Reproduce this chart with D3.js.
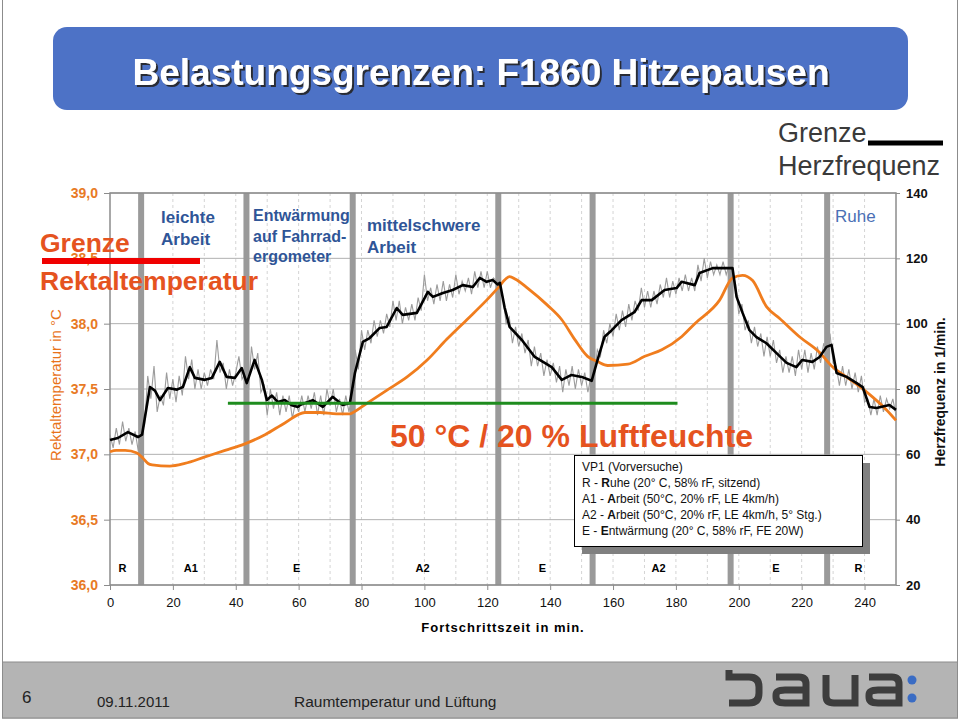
<!DOCTYPE html>
<html>
<head>
<meta charset="utf-8">
<script src="https://cdn.jsdelivr.net/npm/d3@7.9.0/dist/d3.min.js"></script>
<style>
  body { margin: 0; background: #fff; }
  svg { display: block; font-family: "Liberation Sans", Arial, sans-serif; }
</style>
</head>
<body>
<svg id="chart" width="960" height="720"></svg>
<script>
// ---- Data ----
const timeTicks = [0, 20, 40, 60, 80, 100, 120, 140, 160, 180, 200, 220, 240];
const tempTicks = [36.0, 36.5, 37.0, 37.5, 38.0, 38.5, 39.0];
const hrTicks = [20, 40, 60, 80, 100, 120, 140];

// phase borders (min) and the phase codes between them
const phaseBounds = [9.9, 43.4, 77.2, 123.5, 153.5, 197.4, 228.1];
const phaseCodes = ["R", "A1", "E", "A2", "E", "A2", "E", "R"];

// rectal temperature [min, °C]
const tempCurve = [
  [0, 37.02], [2, 37.03], [4.8, 37.03], [8.6, 37.01], [10.5, 36.97], [12.1, 36.93],
  [13.4, 36.92], [19, 36.91], [23.8, 36.93], [30.2, 36.98], [36.6, 37.03], [42.9, 37.08],
  [49.3, 37.15], [55.6, 37.24], [62, 37.32], [66.8, 37.32], [72, 37.31], [76.3, 37.31],
  [78, 37.33], [81.7, 37.39], [88, 37.49], [94.4, 37.59], [100.8, 37.72], [107.1, 37.88],
  [113.5, 38.03], [119.8, 38.18], [123.3, 38.27], [127.1, 38.36], [129, 38.34], [132.9, 38.27],
  [139.2, 38.14], [143.7, 38.03], [147.8, 37.88], [151.9, 37.75], [155.1, 37.71], [158.3, 37.68],
  [164.7, 37.69], [170.1, 37.75], [175.5, 37.8], [181.8, 37.9], [186, 38.0], [193.9, 38.18],
  [198, 38.35], [201.2, 38.37], [204.4, 38.33], [208.8, 38.13], [213, 38.04], [219.3, 37.9],
  [225.7, 37.78], [229.8, 37.67], [234.3, 37.59], [238.4, 37.52], [242.5, 37.44], [247, 37.34],
  [250, 37.26]
];

// heart rate, smoothed [min, 1/min]
const hrSmooth = [
  [0, 64.4], [2.5, 65], [5.7, 66.8], [8.9, 65.3], [10.2, 66], [12.7, 80.6], [14.3, 79.5],
  [15.9, 76.6], [18.4, 80.3], [21.3, 79.8], [23.2, 80.6], [25.4, 86.7], [27, 83.4], [30.2, 82.8],
  [32.4, 83.4], [34.9, 88.3], [37.1, 83.7], [39.7, 83.4], [41.9, 86.4], [43.5, 81.8], [46, 88.9],
  [48.3, 82.8], [49.9, 76.6], [51.5, 78], [53.4, 76], [55.6, 76.6], [57.8, 75], [59.8, 74.5],
  [60.4, 75.1], [64.5, 76.6], [67.7, 74.5], [70.8, 77.6], [74, 75.1], [76.3, 75.7], [77.9, 84.9],
  [80.4, 94.4], [82.6, 95.6], [85.8, 98.7], [88, 99], [91.2, 104.8], [93.1, 102.7], [97.6, 103.3],
  [101.1, 109.7], [102.7, 108.2], [105.9, 109.4], [109, 110.3], [112.2, 111.8], [115.4, 111.2],
  [117.6, 114], [119.8, 112.8], [121.7, 113.4], [123.3, 112], [124, 112.5], [125.5, 105],
  [127.1, 99], [131, 95], [135.1, 89.8], [140.5, 86.7], [143.7, 82.8], [146.8, 84.3], [150, 83.7],
  [153.2, 82.5], [154.8, 88], [157.3, 96], [159.6, 98], [162.7, 101.1], [166.8, 103.5],
  [169.1, 107.2], [172.3, 107.2], [176.4, 110.3], [180.2, 110.9], [181.8, 112.8], [186, 111.8],
  [187.5, 115.5], [191.7, 117], [198, 117], [199.3, 108.2], [201.2, 103.3], [203.4, 98],
  [205.6, 95.9], [208.8, 94], [212, 91], [215.2, 88], [218.3, 86.7], [220.2, 88.9], [223.4, 88.3],
  [225.7, 89.8], [227.9, 92.9], [229.5, 93.5], [231.1, 84.9], [234.3, 83.7], [237.5, 81.8],
  [239.4, 80.6], [241.6, 74.5], [243.8, 74.2], [247.9, 75.1], [250, 73.6]
];

// heart rate, raw readings, one per minute from 0 to 250
const hrRaw = [
  66, 62, 68, 63, 70, 64, 68, 63, 67, 61,
  67, 69, 84, 77, 87, 73, 78, 75, 85, 77,
  83, 76, 84, 78, 90, 83, 89, 80, 86, 80,
  85, 81, 86, 83, 95, 85, 88, 80, 86, 81,
  85, 90, 83, 85, 79, 93, 86, 91, 79, 81,
  72, 80, 74, 79, 72, 78, 73, 78, 71, 76,
  73, 78, 73, 78, 74, 79, 72, 78, 72, 80,
  75, 80, 73, 77, 72, 78, 73, 78, 92, 86,
  98, 92, 98, 94, 101, 96, 101, 97, 103, 99,
  107, 101, 107, 100, 105, 101, 106, 101, 108, 104,
  115, 107, 111, 106, 112, 107, 113, 107, 112, 108,
  115, 109, 113, 110, 114, 109, 116, 111, 116, 111,
  116, 111, 114, 113, 110, 108, 100, 102, 94, 99,
  93, 97, 91, 95, 87, 93, 87, 91, 84, 89,
  84, 88, 82, 87, 79, 86, 81, 87, 80, 86,
  81, 85, 79, 84, 83, 92, 90, 98, 94, 100,
  96, 103, 98, 104, 99, 106, 101, 107, 104, 111,
  105, 110, 105, 110, 106, 112, 108, 114, 108, 113,
  109, 114, 110, 115, 110, 114, 110, 118, 113, 120,
  114, 119, 115, 118, 115, 119, 115, 118, 116, 112,
  103, 106, 98, 101, 94, 99, 93, 97, 90, 96,
  90, 95, 88, 92, 85, 90, 85, 90, 84, 92,
  86, 92, 85, 91, 86, 93, 88, 94, 91, 97,
  88, 87, 81, 87, 81, 86, 80, 85, 79, 84,
  76, 77, 72, 77, 72, 78, 73, 77, 74, 77,
  72
];

// green reference line [min, °C]
const greenLine = [[37.5, 37.39], [180.5, 37.39]];

// info box lines: plain prefix, bold letter, rest
const noteLines = [
  ["VP1 (Vorversuche)", "", ""],
  ["R - ", "R", "uhe (20° C, 58% rF, sitzend)"],
  ["A1 - ", "A", "rbeit (50°C, 20% rF, LE 4km/h)"],
  ["A2 - ", "A", "rbeit (50°C, 20% rF, LE 4km/h, 5° Stg.)"],
  ["E - ", "E", "ntwärmung (20° C, 58% rF, FE 20W)"]
];

// ---- Setup ----
const svg = d3.select("#chart");

const x = d3.scaleLinear().domain([0, 250]).range([110, 896]);
const yT = d3.scaleLinear().domain([36, 39]).range([585, 193]);
const yH = d3.scaleLinear().domain([20, 140]).range([585, 193]);
const comma = d => d3.format(".1f")(d).replace(".", ",");

const orange = "#f07d1e";
const orangeText = "#e5531f";
const blueText = "#2f5597";

// drop shadow for the title
const defs = svg.append("defs");
defs.append("filter").attr("id", "shadow")
  .append("feDropShadow")
  .attr("dx", 2).attr("dy", 2).attr("stdDeviation", 0.6)
  .attr("flood-color", "#222").attr("flood-opacity", 0.9);

// slide frame and footer
svg.append("rect")
  .attr("x", 2.5).attr("y", -10).attr("width", 955).attr("height", 728)
  .attr("fill", "none").attr("stroke", "#8c8c8c");

svg.append("rect")
  .attr("x", 2.5).attr("y", 662).attr("width", 955).attr("height", 56)
  .attr("fill", "#b4b4b4").attr("stroke", "#8c8c8c");

// title banner
svg.append("rect")
  .attr("x", 53).attr("y", 27).attr("width", 855).attr("height", 83)
  .attr("rx", 14).attr("fill", "#4d72c6");

svg.append("text")
  .attr("x", 481).attr("y", 85)
  .attr("text-anchor", "middle")
  .attr("font-size", 37).attr("font-weight", "bold")
  .attr("fill", "#fff").attr("filter", "url(#shadow)")
  .text("Belastungsgrenzen: F1860 Hitzepausen");

// ---- Grid ----
const grid = svg.append("g");

grid.selectAll(".vgrid")
  .data(d3.range(10, 250, 10))
  .join("line")
  .attr("x1", d => x(d)).attr("x2", d => x(d))
  .attr("y1", yT(39)).attr("y2", yT(36))
  .attr("stroke", "#d4d4d4").attr("stroke-dasharray", "3,3");

grid.selectAll(".hgrid")
  .data(tempTicks)
  .join("line")
  .attr("x1", x(0)).attr("x2", x(250))
  .attr("y1", d => yT(d)).attr("y2", d => yT(d))
  .attr("stroke", "#b0b0b0");

// phase separators
grid.selectAll(".phase")
  .data(phaseBounds)
  .join("line")
  .attr("x1", d => x(d)).attr("x2", d => x(d))
  .attr("y1", yT(39)).attr("y2", yT(36))
  .attr("stroke", "#9a9a9a").attr("stroke-width", 6);

// plot frame
svg.append("rect")
  .attr("x", x(0)).attr("y", yT(39))
  .attr("width", x(250) - x(0)).attr("height", yT(36) - yT(39))
  .attr("fill", "none").attr("stroke", "#8c8c8c").attr("stroke-width", 1.5);

// phase codes along the bottom
const bounds = [0, ...phaseBounds, 250];
svg.selectAll(".code")
  .data(phaseCodes)
  .join("text")
  .attr("x", (d, i) => x((bounds[i] + bounds[i + 1]) / 2) - 3)
  .attr("y", 572)
  .attr("text-anchor", "middle")
  .attr("font-size", 11).attr("font-weight", "bold")
  .text(d => d);

// ---- Axes ----
const leftAxis = svg.append("g")
  .attr("transform", `translate(${x(0)},0)`)
  .call(d3.axisLeft(yT).tickValues(tempTicks).tickFormat(comma).tickSize(6).tickPadding(6))
  .call(g => g.select(".domain").remove());
leftAxis.selectAll("line").attr("stroke", "#8c8c8c");
leftAxis.selectAll("text")
  .attr("fill", "#e87a25").attr("font-size", 14).attr("font-weight", "bold")
  .attr("font-family", "Liberation Sans, Arial, sans-serif");

const rightAxis = svg.append("g")
  .attr("transform", `translate(${x(250)},0)`)
  .call(d3.axisRight(yH).tickValues(hrTicks).tickSize(4).tickPadding(6))
  .call(g => g.select(".domain").remove());
rightAxis.selectAll("line").attr("stroke", "#8c8c8c");
rightAxis.selectAll("text")
  .attr("fill", "#111").attr("font-size", 13).attr("font-weight", "bold")
  .attr("font-family", "Liberation Sans, Arial, sans-serif");

const bottomAxis = svg.append("g")
  .attr("transform", `translate(0,${yT(36)})`)
  .call(d3.axisBottom(x).tickValues(timeTicks).tickSize(5).tickPadding(8))
  .call(g => g.select(".domain").remove());
bottomAxis.selectAll("line").attr("stroke", "#8c8c8c");
bottomAxis.selectAll("text")
  .attr("fill", "#111").attr("font-size", 13)
  .attr("font-family", "Liberation Sans, Arial, sans-serif");

svg.append("text")
  .attr("x", 503).attr("y", 632)
  .attr("text-anchor", "middle")
  .attr("font-size", 13).attr("font-weight", "bold")
  .attr("letter-spacing", 1)
  .text("Fortschrittszeit in min.");

svg.append("text")
  .attr("transform", "translate(61,385) rotate(-90)")
  .attr("text-anchor", "middle")
  .attr("font-size", 15).attr("fill", "#e8731a")
  .text("Rektaltemperatur in °C");

svg.append("text")
  .attr("transform", "translate(945,392) rotate(-90)")
  .attr("text-anchor", "middle")
  .attr("font-size", 14).attr("font-weight", "bold").attr("fill", "#111")
  .text("Herzfrequenz in 1/min.");

// ---- Curves ----
const lineT = d3.line().x(d => x(d[0])).y(d => yT(d[1]));
const lineH = d3.line().x(d => x(d[0])).y(d => yH(d[1]));

svg.append("path")
  .datum(hrRaw.map((v, i) => [i, v]))
  .attr("d", lineH)
  .attr("fill", "none").attr("stroke", "#9c9c9c").attr("stroke-width", 1.1);

svg.append("path")
  .datum(tempCurve)
  .attr("d", lineT.curve(d3.curveMonotoneX))
  .attr("fill", "none").attr("stroke", orange).attr("stroke-width", 2.8);

svg.append("path")
  .datum(hrSmooth)
  .attr("d", lineH)
  .attr("fill", "none").attr("stroke", "#000").attr("stroke-width", 2.6)
  .attr("stroke-linejoin", "round");

svg.append("path")
  .datum(greenLine)
  .attr("d", d3.line().x(d => x(d[0])).y(d => yT(d[1])))
  .attr("stroke", "#1e8c1e").attr("stroke-width", 3);

// ---- Annotations ----
svg.append("text")
  .attr("x", 390).attr("y", 447)
  .attr("font-size", 32).attr("font-weight", "bold").attr("fill", orangeText)
  .text("50 °C / 20 % Luftfeuchte");

// phase headings at the top of the plot
function multiline(xPos, yPos, lines, size, weight, color, lh) {
  const t = svg.append("text")
    .attr("x", xPos).attr("y", yPos)
    .attr("font-size", size).attr("font-weight", weight).attr("fill", color);
  lines.forEach((l, i) => {
    t.append("tspan").attr("x", xPos).attr("dy", i === 0 ? 0 : lh).text(l);
  });
}
multiline(161, 223, ["leichte", "Arbeit"], 17, "bold", blueText, 22);
multiline(253, 221, ["Entwärmung", "auf Fahrrad-", "ergometer"], 16, "bold", blueText, 20.5);
multiline(367, 231, ["mittelschwere", "Arbeit"], 17, "bold", blueText, 22);
multiline(835, 222, ["Ruhe"], 17, "normal", "#4a6fb5", 0);

// limit legend, rectal temperature
svg.append("text")
  .attr("x", 40).attr("y", 252)
  .attr("font-size", 26.5).attr("font-weight", "bold").attr("fill", orangeText)
  .text("Grenze");
svg.append("line")
  .attr("x1", 42).attr("x2", 200).attr("y1", 261).attr("y2", 261)
  .attr("stroke", "#f00000").attr("stroke-width", 6);
svg.append("text")
  .attr("x", 40).attr("y", 290)
  .attr("font-size", 26.5).attr("font-weight", "bold").attr("fill", orangeText)
  .text("Rektaltemperatur");

// limit legend, heart rate
svg.append("text")
  .attr("x", 778).attr("y", 142)
  .attr("font-size", 27).attr("fill", "#3a3a3a")
  .text("Grenze");
svg.append("line")
  .attr("x1", 868).attr("x2", 943).attr("y1", 143).attr("y2", 143)
  .attr("stroke", "#000").attr("stroke-width", 5);
svg.append("text")
  .attr("x", 778).attr("y", 175)
  .attr("font-size", 27).attr("fill", "#3a3a3a")
  .text("Herzfrequenz");

// info box with shadow
svg.append("rect")
  .attr("x", 582).attr("y", 463).attr("width", 288).attr("height", 91)
  .attr("fill", "#808080");
svg.append("rect")
  .attr("x", 574.5).attr("y", 455.5).attr("width", 288).attr("height", 91)
  .attr("fill", "#fff").attr("stroke", "#000");

const note = svg.append("text")
  .attr("font-size", 12).attr("fill", "#111");
noteLines.forEach((l, i) => {
  const row = note.append("tspan").attr("x", 582).attr("y", 471 + i * 16);
  row.append("tspan").text(l[0]);
  if (l[1]) row.append("tspan").attr("font-weight", "bold").text(l[1]);
  if (l[2]) row.append("tspan").text(l[2]);
});

// ---- Footer ----
svg.append("text").attr("x", 22).attr("y", 703)
  .attr("font-size", 17).attr("fill", "#222").text("6");
svg.append("text").attr("x", 97).attr("y", 707)
  .attr("font-size", 15).attr("fill", "#222").text("09.11.2011");
svg.append("text").attr("x", 294).attr("y", 707)
  .attr("font-size", 15.5).attr("fill", "#222").text("Raumtemperatur und Lüftung");

// baua: logo drawn from strokes
const logo = svg.append("g")
  .attr("fill", "none").attr("stroke", "#3d3d3d").attr("stroke-width", 7);
logo.append("path").attr("d", "M729,670 V677 H749 Q759,677 759,687 V693 Q759,703 749,703 H729");
logo.append("path").attr("d", "M776,677 H799 Q806,677 806,684 V703 H785 Q776,703 776,697 V695 Q776,690 785,690 H806");
logo.append("path").attr("d", "M826,675 V696 Q826,703 834,703 H855 V675");
logo.append("path").attr("d", "M869,677 H892 Q899,677 899,684 V703 H878 Q869,703 869,697 V695 Q869,690 878,690 H899");
svg.append("circle").attr("cx", 912).attr("cy", 680).attr("r", 4.5).attr("fill", "#3a6cc4");
svg.append("circle").attr("cx", 912).attr("cy", 698).attr("r", 4.5).attr("fill", "#3a6cc4");
</script>
</body>
</html>
